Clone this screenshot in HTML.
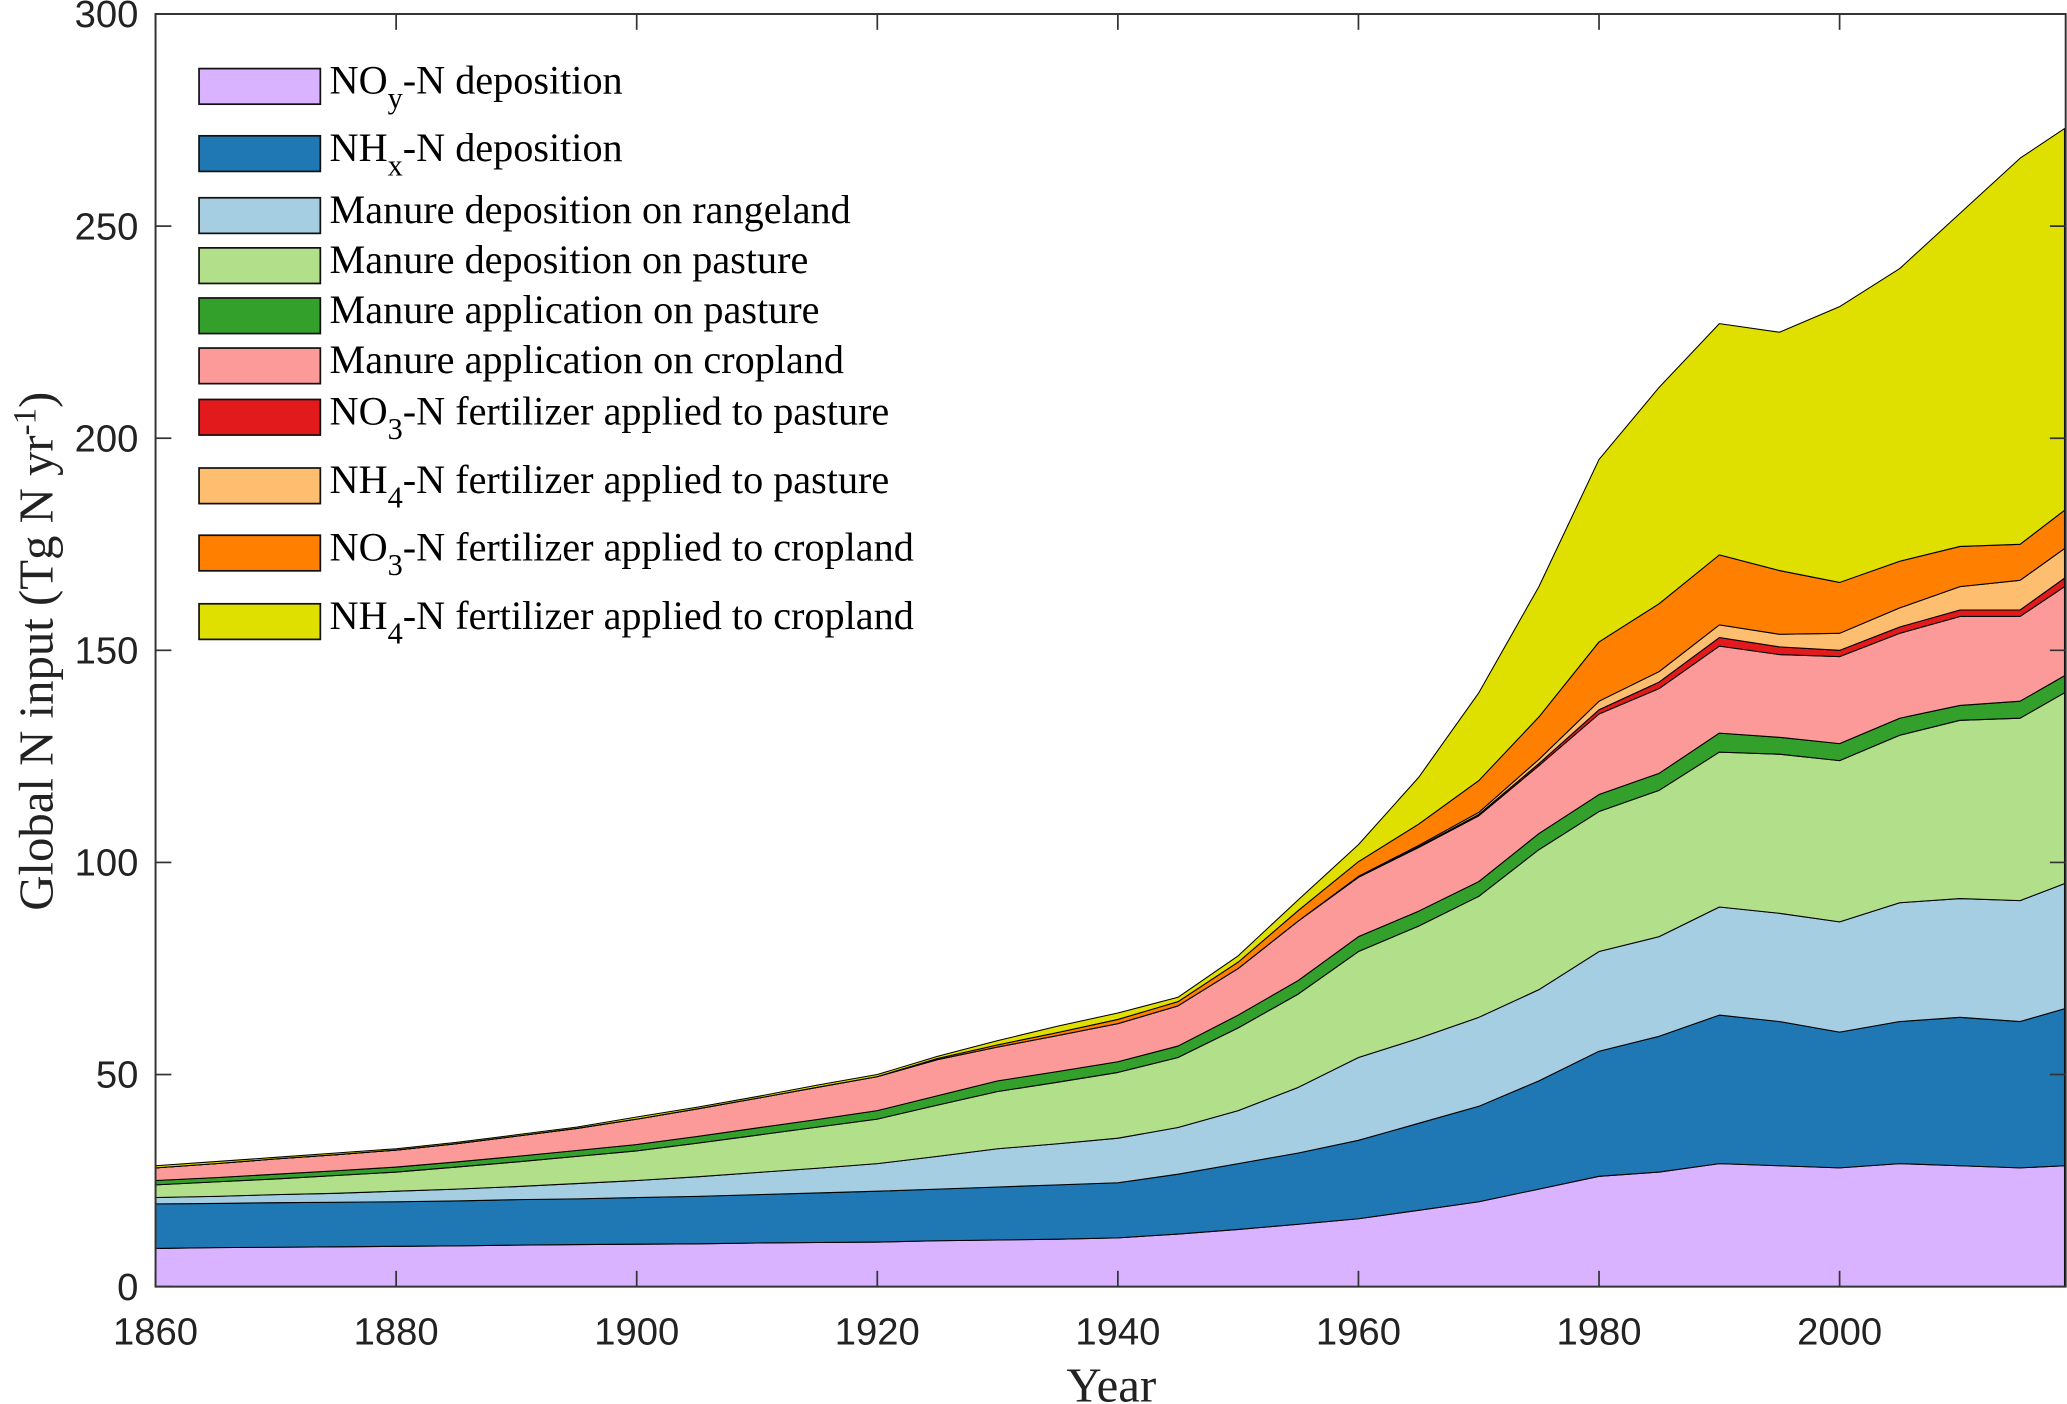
<!DOCTYPE html>
<html><head><meta charset="utf-8"><style>
html,body{margin:0;padding:0;background:#fff;}
svg{display:block;}
.tick{font-family:"Liberation Sans",Arial,sans-serif;font-size:29px;fill:#222;}
.leg{font-family:"Liberation Serif","Times New Roman",serif;font-size:30.5px;fill:#000;}
.ax{font-family:"Liberation Serif","Times New Roman",serif;font-size:37px;fill:#222;}
</style></head><body>
<svg id="chart" width="2067" height="1404" viewBox="0 0 1568 1065" xmlns="http://www.w3.org/2000/svg">
<g id="areas"></g>
<g id="axes"></g>
<g id="legend"></g>
<text class="ax" x="843" y="1063" text-anchor="middle">Year</text>
<text class="ax" transform="translate(40,494) rotate(-90)" text-anchor="middle">Global N input (Tg N yr<tspan dy="-13" font-size="25">-1</tspan><tspan dy="13">)</tspan></text>
</svg>
<script>
const years = [1860,1865,1870,1875,1880,1885,1890,1895,1900,1905,1910,1915,1920,1925,1930,1935,1940,1945,1950,1955,1960,1965,1970,1975,1980,1985,1990,1995,2000,2005,2010,2015,2018.7];
const noyDep = [9,9.2,9.3,9.4,9.5,9.6,9.8,9.9,10,10.1,10.3,10.4,10.5,10.8,11,11.2,11.5,12.4,13.5,14.7,16,18,20,23,26,27,29,28.5,28,29,28.5,28,28.5];
const nhxDep = [10.5,10.4,10.5,10.5,10.5,10.6,10.7,10.8,11,11.2,11.4,11.7,12,12.2,12.5,12.8,13,14.1,15.5,16.8,18.5,20.5,22.5,25.5,29.5,32,35,34,32,33.5,35,34.5,37];
const manureRange = [1.5,1.7,1.9,2.1,2.5,2.8,3.1,3.6,4,4.6,5.2,5.8,6.5,7.7,9,9.7,10.5,11,12.5,15.5,19.5,20,21,21.5,23.5,23.5,25.5,25.5,26,28,28,28.5,29.5];
const manurePastDep = [3,3.4,3.7,4.2,4.5,5.2,5.8,6.4,7,7.9,8.8,9.7,10.5,12.1,13.5,14.5,15.5,16.5,19.5,22,25,26.5,28.5,33,33,34.5,36.5,37.5,38,39.5,42,43,45];
const manurePastApp = [1,1,1.1,1.1,1.2,1.2,1.3,1.4,1.5,1.6,1.7,1.8,2,2.2,2.5,2.5,2.5,2.7,3,3.2,3.5,3.5,3.5,3.8,4,4,4.5,4,4,4,3.5,4,4];
const manureCropApp = [3,3.3,3.6,3.8,4,4.3,4.8,5.2,6,6.5,7,7.6,8,8.5,8,8.5,9,9.5,11,14,14,15,15.5,16,19,20,20.5,19.5,20.5,20,21,20,21];
const no3Past = [0,0,0,0,0,0,0,0,0,0,0,0,0,0,0,0,0,0,0,0,0,0.2,0.3,0.5,1,1.5,2,1.8,1.5,1.5,1.5,1.5,2];
const nh4Past = [0,0,0,0,0,0,0,0,0,0,0,0,0,0,0,0,0,0,0,0,0.2,0.3,0.5,1,2,2.5,3,3,4,4.5,5.5,7,7];
const no3Crop = [0,0,0,0,0,0,0,0,0,0,0,0,0,0.3,0.5,0.7,1,1,1.5,2.5,3.5,5,7.5,10,14,16,16.5,15,12,11,9.5,8.5,9];
const nh4Crop = [0.5,0.5,0.4,0.4,0.3,0.3,0.3,0.3,0.5,0.4,0.4,0.5,0.5,0.5,1,1.5,1.5,1,1.5,2.5,4,11,20.7,30.7,43,51,54.5,56.2,65,69,78.5,91,90];
const seriesNames = ["NOy-N deposition","NHx-N deposition","Manure deposition on rangeland","Manure deposition on pasture","Manure application on pasture","Manure application on cropland","NO3-N fertilizer applied to pasture","NH4-N fertilizer applied to pasture","NO3-N fertilizer applied to cropland","NH4-N fertilizer applied to cropland"];
const xTicks = [1860,1880,1900,1920,1940,1960,1980,2000];
const yTicks = [0,50,100,150,200,250,300];

const series=[noyDep,nhxDep,manureRange,manurePastDep,manurePastApp,manureCropApp,no3Past,nh4Past,no3Crop,nh4Crop];
const colors=["#d9b3ff","#1f78b4","#a6cee3","#b2df8a","#33a02c","#fb9a99","#e31a1c","#fdbf6f","#ff7f00","#dfe000"];
const L=118,R=1567,T=10.6,B=976;
const x=y=>L+(y-1860)*9.125;
const yv=v=>B-(v/300)*(B-T);
const NS="http://www.w3.org/2000/svg";
function mk(t,a,p){const e=document.createElementNS(NS,t);for(const k in a)e.setAttribute(k,a[k]);p.appendChild(e);return e;}
const areas=document.getElementById('areas');
let base=years.map(()=>0);
series.forEach((s,i)=>{
  const top=base.map((b,j)=>b+s[j]);
  let d=years.map((yr,j)=>(j?'L':'M')+x(yr).toFixed(1)+','+yv(top[j]).toFixed(1)).join('');
  for(let j=years.length-1;j>=0;j--)d+='L'+x(years[j]).toFixed(1)+','+yv(base[j]).toFixed(1);
  const p=mk('path',{d:d+'Z',fill:colors[i],stroke:'#000','stroke-width':0.8,'stroke-linejoin':'round'},areas);
  
  
  base=top;
});
const axes=document.getElementById('axes');
mk('rect',{x:L,y:T,width:R-L,height:B-T,fill:'none',stroke:'#333','stroke-width':1.5},axes);
xTicks.forEach(t=>{
  const X=x(t);
  mk('line',{x1:X,x2:X,y1:B,y2:B-12,stroke:'#333','stroke-width':1.3},axes);
  mk('line',{x1:X,x2:X,y1:T,y2:T+12,stroke:'#333','stroke-width':1.3},axes);
  const tx=mk('text',{x:X,y:B+44,'text-anchor':'middle',class:'tick'},axes);
  tx.textContent=t;
  
  
});
yTicks.forEach(t=>{
  const Y=yv(t);
  mk('line',{x1:L,x2:L+12,y1:Y,y2:Y,stroke:'#333','stroke-width':1.3},axes);
  mk('line',{x1:R,x2:R-12,y1:Y,y2:Y,stroke:'#333','stroke-width':1.3},axes);
  const tx=mk('text',{x:L-13,y:Y+10,'text-anchor':'end',class:'tick'},axes);
  tx.textContent=t;
  
  
});
const legend=document.getElementById('legend');
const rowsY=[52,103,150,188,226,264,303,355,406,458];
const labels=[["NO","y","-N deposition"],["NH","x","-N deposition"],["Manure deposition on rangeland"],["Manure deposition on pasture"],["Manure application on pasture"],["Manure application on cropland"],["NO","3","-N fertilizer applied to pasture"],["NH","4","-N fertilizer applied to pasture"],["NO","3","-N fertilizer applied to cropland"],["NH","4","-N fertilizer applied to cropland"]];
rowsY.forEach((ry,i)=>{
  const g=mk('g',{},legend);
  
  
  mk('rect',{x:151,y:ry,width:92,height:27,fill:colors[i],stroke:'#111','stroke-width':1.3},g);
  const t=mk('text',{x:250,y:ry+19,class:'leg'},g);
  const lb=labels[i];
  if(lb.length===1){t.textContent=lb[0];}
  else{
    t.appendChild(document.createTextNode(lb[0]));
    const s=mk('tspan',{dy:11,'font-size':23},t);s.textContent=lb[1];
    const r=mk('tspan',{dy:-11},t);r.textContent=lb[2];
  }
});
</script>
</body></html>
